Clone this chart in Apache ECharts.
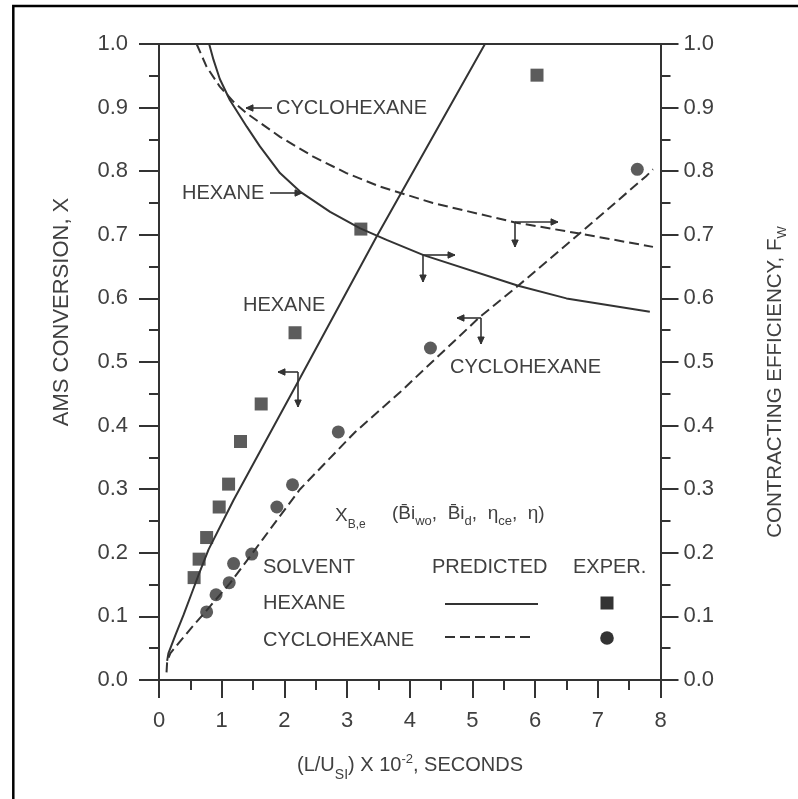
<!DOCTYPE html>
<html>
<head>
<meta charset="utf-8">
<script src="https://cdn.jsdelivr.net/npm/echarts@6/dist/echarts.min.js"></script>
<style>
html,body{margin:0;padding:0;background:#fff;}
#chart{width:798px;height:799px;}
</style>
</head>
<body>
<div id="chart"></div>
<script>
// ---------- data ----------
const xTickLabels = ['0','1','2','3','4','5','6','7','8'];
const yTickLabels = ['0.0','0.1','0.2','0.3','0.4','0.5','0.6','0.7','0.8','0.9','1.0'];

// predicted AMS conversion X (left axis)
const hexConvPredX = [0.13, 0.15, 0.26, 0.39, 0.52, 0.65, 0.79, 1.19, 2.25, 3.47, 5.20];
const hexConvPredY = [0.030, 0.042, 0.070, 0.102, 0.136, 0.170, 0.205, 0.283, 0.475, 0.697, 1.000];
const cycConvPredX = [0.12, 0.13, 0.18, 0.33, 0.55, 0.73, 0.92, 1.13, 1.45, 1.66, 2.25, 3.13, 3.84, 5.12, 5.73, 6.71, 7.78, 7.88];
const cycConvPredY = [0.012, 0.029, 0.042, 0.060, 0.086, 0.106, 0.128, 0.152, 0.194, 0.222, 0.300, 0.390, 0.452, 0.571, 0.620, 0.702, 0.793, 0.803];

// predicted contacting efficiency F_W (right axis)
const hexEffPredX = [0.80, 0.87, 0.97, 1.13, 1.40, 1.61, 1.93, 2.25, 2.73, 3.21, 3.63, 4.22, 5.73, 6.50, 7.83];
const hexEffPredY = [1.000, 0.975, 0.945, 0.912, 0.870, 0.839, 0.797, 0.768, 0.736, 0.710, 0.692, 0.668, 0.620, 0.600, 0.579];
const cycEffPredX = [0.60, 0.76, 0.97, 1.19, 1.40, 1.93, 2.46, 2.99, 3.52, 4.37, 5.70, 6.71, 7.88];
const cycEffPredY = [1.000, 0.964, 0.933, 0.909, 0.891, 0.854, 0.823, 0.797, 0.776, 0.750, 0.719, 0.702, 0.681];

// experimental points
const hexExpX = [0.56, 0.64, 0.76, 0.96, 1.11, 1.30, 1.63, 2.17, 3.22, 6.03];
const hexExpY = [0.161, 0.190, 0.224, 0.272, 0.308, 0.375, 0.434, 0.546, 0.709, 0.951];
const cycExpX = [0.76, 0.91, 1.12, 1.19, 1.48, 1.88, 2.13, 2.86, 4.33, 7.63];
const cycExpY = [0.107, 0.134, 0.153, 0.183, 0.198, 0.272, 0.307, 0.390, 0.522, 0.803];

// ---------- styling ----------
const INK = '#333333';
const TXT = '#404040';
const FONT = '"Liberation Sans", Arial, Helvetica, sans-serif';
const pairs = (xs, ys) => xs.map((x, i) => [x, ys[i]]);

const chart = echarts.init(document.getElementById('chart'), null, {renderer: 'canvas'});

function txt(text, x, y, size, align) {
  return {type: 'text', z: 50, style: {text: text, x: x, y: y, fill: TXT,
    font: size + 'px ' + FONT, textAlign: align || 'left', textVerticalAlign: 'middle',
    align: align || 'left', verticalAlign: 'middle'}};
}
function arrow(x1, y1, x2, y2) {
  const a = Math.atan2(y2 - y1, x2 - x1), L = 7, W = 3.2;
  const bx = x2 - L * Math.cos(a), by = y2 - L * Math.sin(a);
  const px = -Math.sin(a) * W, py = Math.cos(a) * W;
  return [
    {type: 'polyline', z: 50, shape: {points: [[x1, y1], [x2, y2]]}, style: {stroke: INK, lineWidth: 1.6, fill: null}},
    {type: 'polygon', z: 50, shape: {points: [[x2, y2], [bx + px, by + py], [bx - px, by - py]]}, style: {fill: INK, stroke: INK, lineWidth: 1}}
  ];
}
function seg(x1, y1, x2, y2, dash) {
  return {type: 'line', z: 50, shape: {x1: x1, y1: y1, x2: x2, y2: y2},
    style: {stroke: INK, lineWidth: 2, lineDash: dash || null}};
}

const graphics = [
  // outer frame
  {type: 'rect', z: 60, shape: {x: 13.3, y: 6, width: 820, height: 820}, style: {fill: null, stroke: '#000', lineWidth: 2.5}},
  // curve labels
  txt('CYCLOHEXANE', 276, 108, 20),
  ...arrow(272, 108, 246, 108),
  txt('HEXANE', 182, 193, 20),
  ...arrow(270, 193, 302, 193),
  txt('HEXANE', 243, 305, 20),
  txt('CYCLOHEXANE', 450, 367, 20),
  // axis indicator arrows
  ...arrow(298, 372, 278, 372), ...arrow(298, 372, 298, 407),
  ...arrow(423, 255, 455, 255), ...arrow(423, 255, 423, 282),
  ...arrow(515, 222, 558, 222), ...arrow(515, 222, 515, 247),
  ...arrow(481, 318, 457, 318), ...arrow(481, 318, 481, 344),
  // formula
  {type: 'text', z: 50, style: {x: 335, y: 516, text: '{n|X}{s|B,e}', align: 'left', verticalAlign: 'middle',
    textAlign: 'left', textVerticalAlign: 'middle',
    rich: {n: {fontSize: 19, fontFamily: FONT, fill: TXT, color: TXT, lineHeight: 22, verticalAlign: 'middle'},
           s: {fontSize: 12, fontFamily: FONT, fill: TXT, color: TXT, lineHeight: 12, padding: [18, 0, 0, 0], verticalAlign: 'middle'}}}},
  {type: 'text', z: 50, style: {x: 392, y: 514, text: '{n|(B\u0304i}{s|wo}{n|,  B\u0304i}{s|d}{n|,  η}{s|ce}{n|,  η)}', align: 'left', verticalAlign: 'middle',
    textAlign: 'left', textVerticalAlign: 'middle',
    rich: {n: {fontSize: 19, fontFamily: FONT, fill: TXT, color: TXT, lineHeight: 22, verticalAlign: 'middle'},
           s: {fontSize: 13, fontFamily: FONT, fill: TXT, color: TXT, lineHeight: 13, padding: [14, 0, 0, 0], verticalAlign: 'middle'}}}},
  // legend table
  txt('SOLVENT', 263, 567, 20),
  txt('PREDICTED', 432, 567, 20),
  txt('EXPER.', 573, 567, 20),
  txt('HEXANE', 263, 603, 20),
  txt('CYCLOHEXANE', 263, 640, 20),
  seg(445, 604, 538, 604),
  seg(445, 637, 535, 637, [10, 5]),
  {type: 'rect', z: 50, shape: {x: 600.5, y: 596.5, width: 13, height: 13}, style: {fill: INK}},
  {type: 'circle', z: 50, shape: {cx: 607, cy: 638, r: 6.8}, style: {fill: INK}},
  // axis titles
  {type: 'text', z: 50, x: 61.5, y: 312, rotation: Math.PI / 2,
    style: {x: 0, y: 0, text: 'AMS CONVERSION, X', fill: TXT, font: '22px ' + FONT,
      align: 'center', verticalAlign: 'middle', textAlign: 'center', textVerticalAlign: 'middle'}},
  {type: 'text', z: 50, x: 775, y: 382, rotation: Math.PI / 2,
    style: {x: 0, y: 0, text: '{n|CONTRACTING EFFICIENCY, F}{s|W}', align: 'center', verticalAlign: 'middle',
      textAlign: 'center', textVerticalAlign: 'middle',
      rich: {n: {fontSize: 20.5, fontFamily: FONT, fill: TXT, color: TXT, lineHeight: 22, verticalAlign: 'middle'},
             s: {fontSize: 13, fontFamily: FONT, fill: TXT, color: TXT, lineHeight: 13, padding: [14, 0, 0, 0], verticalAlign: 'middle'}}}},
  {type: 'text', z: 50, x: 410, y: 765,
    style: {x: 0, y: 0, text: '{n|(L/U}{s|SI}{n|) X 10}{p|-2}{n|, SECONDS}', align: 'center', verticalAlign: 'middle',
      textAlign: 'center', textVerticalAlign: 'middle',
      rich: {n: {fontSize: 20, fontFamily: FONT, fill: TXT, color: TXT, lineHeight: 22, verticalAlign: 'middle'},
             s: {fontSize: 14, fontFamily: FONT, fill: TXT, color: TXT, lineHeight: 14, padding: [20, 0, 0, 0], verticalAlign: 'middle'},
             p: {fontSize: 13, fontFamily: FONT, fill: TXT, color: TXT, lineHeight: 13, padding: [0, 0, 12, 0], verticalAlign: 'middle'}}}}
];

const axisLineStyle = {color: INK, width: 2};
const labelStyle = {fontSize: 22, color: TXT, fontFamily: FONT};

const option = {
  animation: false,
  backgroundColor: '#ffffff',
  grid: {left: 159, right: 798 - 660.5, top: 44, bottom: 799 - 680, containLabel: false},
  xAxis: [
    {type: 'value', min: 0, max: 8, interval: 1, position: 'bottom',
      axisLine: {show: true, onZero: false, lineStyle: axisLineStyle},
      axisTick: {show: true, inside: false, length: 18, lineStyle: axisLineStyle},
      minorTick: {show: true, splitNumber: 2, length: 10, lineStyle: axisLineStyle},
      axisLabel: Object.assign({margin: 30, formatter: v => xTickLabels[Math.round(v)]}, labelStyle),
      splitLine: {show: false}, minorSplitLine: {show: false}},
    {type: 'value', min: 0, max: 8, interval: 1, position: 'top',
      axisLine: {show: true, onZero: false, lineStyle: axisLineStyle},
      axisTick: {show: false}, axisLabel: {show: false}, splitLine: {show: false}}
  ],
  yAxis: [
    {type: 'value', min: 0, max: 1, interval: 0.1, position: 'left',
      axisLine: {show: true, onZero: false, lineStyle: axisLineStyle},
      axisTick: {show: true, inside: false, length: 20, lineStyle: axisLineStyle},
      minorTick: {show: true, splitNumber: 2, length: 10, lineStyle: axisLineStyle},
      axisLabel: Object.assign({margin: 31, formatter: v => yTickLabels[Math.round(v * 10)]}, labelStyle),
      splitLine: {show: false}},
    {type: 'value', min: 0, max: 1, interval: 0.1, position: 'right',
      axisLine: {show: true, onZero: false, lineStyle: axisLineStyle},
      axisTick: {show: true, inside: false, length: 18, lineStyle: axisLineStyle},
      minorTick: {show: true, splitNumber: 2, length: 10, lineStyle: axisLineStyle},
      axisLabel: Object.assign({margin: 23, formatter: v => yTickLabels[Math.round(v * 10)]}, labelStyle),
      splitLine: {show: false}}
  ],
  series: [
    {name: 'Hexane X predicted', type: 'line', xAxisIndex: 0, yAxisIndex: 0, data: pairs(hexConvPredX, hexConvPredY),
      showSymbol: false, smooth: false, lineStyle: {color: INK, width: 2}, z: 3},
    {name: 'Cyclohexane X predicted', type: 'line', xAxisIndex: 0, yAxisIndex: 0, data: pairs(cycConvPredX, cycConvPredY),
      showSymbol: false, smooth: false, lineStyle: {color: INK, width: 2, type: [10, 5]}, z: 3},
    {name: 'Hexane Fw predicted', type: 'line', xAxisIndex: 0, yAxisIndex: 1, data: pairs(hexEffPredX, hexEffPredY),
      showSymbol: false, smooth: false, lineStyle: {color: INK, width: 2}, z: 3},
    {name: 'Cyclohexane Fw predicted', type: 'line', xAxisIndex: 0, yAxisIndex: 1, data: pairs(cycEffPredX, cycEffPredY),
      showSymbol: false, smooth: false, lineStyle: {color: INK, width: 2, type: [10, 5]}, z: 3},
    {name: 'Hexane experimental', type: 'scatter', xAxisIndex: 0, yAxisIndex: 0, data: pairs(hexExpX, hexExpY),
      symbol: 'rect', symbolSize: 13, itemStyle: {color: INK}, z: 4},
    {name: 'Cyclohexane experimental', type: 'scatter', xAxisIndex: 0, yAxisIndex: 0, data: pairs(cycExpX, cycExpY),
      symbol: 'circle', symbolSize: 13, itemStyle: {color: INK}, z: 4}
  ],
  graphic: {elements: graphics}
};
chart.setOption(option);
</script>
</body>
</html>
